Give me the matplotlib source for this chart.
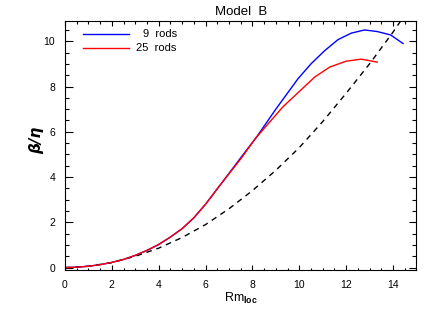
import matplotlib
matplotlib.use('Agg')
import matplotlib.pyplot as plt
from matplotlib.ticker import MultipleLocator

plt.rcParams['font.family'] = ['Liberation Sans', 'DejaVu Sans']
plt.rcParams['mathtext.fontset'] = 'custom'
plt.rcParams['mathtext.rm'] = 'Liberation Sans'
plt.rcParams['mathtext.bf'] = 'Liberation Sans:bold'

# 9 rods (blue)
rm_9 = [0, 0.5, 1, 1.5, 2, 2.5, 3, 3.5, 4, 4.5, 5, 5.5, 6, 6.7, 7.5, 8.2,
        9.0, 9.95, 10.5, 11.08, 11.65, 12.22, 12.79, 13.33, 13.9, 14.43]
beta_9 = [0, 0.02, 0.06, 0.13, 0.23, 0.36, 0.54, 0.76, 1.02, 1.35, 1.72, 2.2,
          2.8, 3.75, 4.85, 5.8, 7.0, 8.35, 9.0, 9.58, 10.07, 10.36, 10.5,
          10.43, 10.28, 9.9]

# 25 rods (red)
rm_25 = [0, 0.5, 1, 1.5, 2, 2.5, 3, 3.5, 4, 4.5, 5, 5.5, 6, 6.7, 7.5, 8.14,
         9.3, 10.66, 11.3, 12.0, 12.65, 13.33]
beta_25 = [0, 0.02, 0.06, 0.13, 0.23, 0.36, 0.54, 0.76, 1.02, 1.35, 1.72, 2.2,
           2.8, 3.75, 4.8, 5.72, 7.1, 8.42, 8.86, 9.12, 9.21, 9.08]

# dashed reference curve
rm_ref = [0, 1, 2, 3, 4, 5, 6, 7, 8, 9, 10, 11, 12, 13, 14, 14.6]
beta_ref = [0, 0.06, 0.22, 0.5, 0.86, 1.33, 1.9, 2.6, 3.4, 4.3, 5.3, 6.45,
            7.7, 9.0, 10.4, 11.3]

legend_labels = ['9  rods', '25  rods']

fig = plt.figure(figsize=(4.36, 3.12), dpi=100)
ax = fig.add_axes([0.149, 0.135, 0.806, 0.798])

ax.plot(rm_ref, beta_ref, color='black', lw=1.0, ls=(0, (4, 3.5)))
ax.plot(rm_9, beta_9, color='blue', lw=1.0)
ax.plot(rm_25, beta_25, color='red', lw=1.0)

# legend drawn by hand, IDL style
for yy, col, lab in zip([0.948, 0.892], ['blue', 'red'], legend_labels):
    ax.plot([0.05, 0.183], [yy, yy], color=col, lw=1.0, transform=ax.transAxes)
    ax.text(0.318, yy, lab, transform=ax.transAxes, ha='right', va='center',
            fontsize=8)

ax.set_xlim(0, 15)
ax.set_ylim(-0.1, 10.9)
ax.xaxis.set_major_locator(MultipleLocator(2))
ax.xaxis.set_minor_locator(MultipleLocator(0.5))
ax.yaxis.set_major_locator(MultipleLocator(2))
ax.yaxis.set_minor_locator(MultipleLocator(0.5))

ax.tick_params(axis='both', which='both', direction='in', top=True, right=True,
               width=0.8, labelsize=7.5)
ax.tick_params(axis='x', which='major', length=3.6, pad=7)
ax.tick_params(axis='x', which='minor', length=1.8)
ax.tick_params(axis='y', which='major', length=5.4, pad=7)
ax.tick_params(axis='y', which='minor', length=2.7)
for sp in ax.spines.values():
    sp.set_linewidth(0.8)

ax.set_title('Model  B', fontsize=9.5, pad=4)
ax.set_xlabel(r'Rm$_{\mathbf{loc}}$', fontsize=9, labelpad=1)
ax.set_ylabel('β/η', fontsize=11, family='DejaVu Sans', style='italic',
              weight='bold', labelpad=0)
ax.yaxis.set_label_coords(-0.06, 0.52)

fig.savefig('out.png', dpi=100)
